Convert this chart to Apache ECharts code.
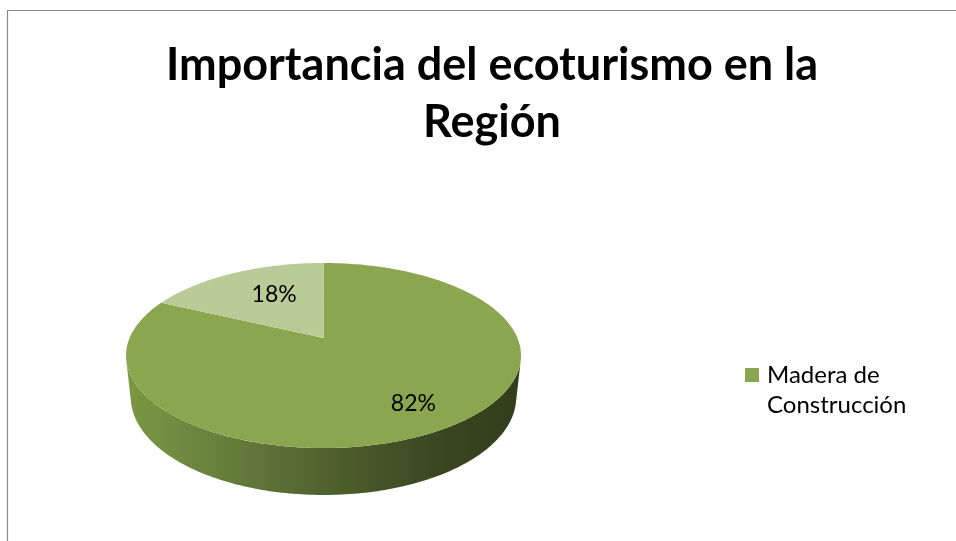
<!DOCTYPE html>
<html><head><meta charset="utf-8">
<script src="https://cdn.jsdelivr.net/npm/echarts@6/dist/echarts.min.js"></script>
<style>html,body{margin:0;padding:0;background:#fff}#c{width:956px;height:541px}</style>
</head><body><div id="c"></div>
<script>
// ---- data ----
const categories = ['Madera de Construcción', 'Otros'];
const values = [82, 18];
const legendItems = ['Madera de Construcción'];
const titleLines = ['Importancia del ecoturismo en la', 'Región'];

// ---- style ----
const topColors = ['#8AA64F', '#B9CC97'];
const FONT = 'Lato, "Noto Sans", sans-serif';
const labelRadius = [0.76, 0.61];
const labelAngleShift = [0, 5];
// 3D projection parameters (tilted disk with perspective)
const GEO = {cx: 323.5, cy: 338, k: 1025, sinA: 0.46, cosA: 0.888, d: 5.286, h: 0.243};
function proj(phiDeg, r, depth) {
  const p = phiDeg * Math.PI / 180;
  const u = r * Math.sin(p), v = r * Math.cos(p);
  const z = GEO.d + v + depth * GEO.sinA / GEO.cosA;
  return [GEO.cx + GEO.k * u / z, GEO.cy - GEO.k * (v * GEO.sinA - depth * GEO.cosA) / z];
}
const total = values.reduce((a, b) => a + b, 0);
const cum = [];
values.reduce((acc, v, i) => { cum[i] = acc; return acc + v; }, 0);
// visible part of the outer wall
const camV = GEO.d * GEO.cosA * GEO.cosA;
const visLo = Math.acos(-1 / camV) * 180 / Math.PI;
const visHi = 360 - visLo;

function arc(a0, a1, depth) {
  const pts = [];
  const n = Math.max(2, Math.ceil(Math.abs(a1 - a0)));
  for (let j = 0; j <= n; j++) pts.push(proj(a0 + (a1 - a0) * j / n, 1, depth));
  return pts;
}

function renderItem(params, api) {
  const i = params.dataIndex;
  const val = api.value(0);
  const a0 = cum[i] / total * 360;
  const a1 = (cum[i] + val) / total * 360;
  const children = [];
  const w0 = Math.max(a0, visLo), w1 = Math.min(a1, visHi);
  if (w1 > w0) {
    const pts = arc(w0, w1, 0).concat(arc(w0, w1, GEO.h).reverse());
    children.push({
      type: 'polygon', z2: 1,
      shape: {points: pts},
      style: {
        fill: {type: 'linear', x: 126, y: 0, x2: 522, y2: 0, global: true,
          colorStops: [
            {offset: 0, color: '#7B9843'},
            {offset: 0.3, color: '#62793A'},
            {offset: 0.55, color: '#4C5D2C'},
            {offset: 0.8, color: '#394620'},
            {offset: 1, color: '#323D1B'}
          ]}
      }
    });
  }
  const topPts = [proj(0, 0, 0)].concat(arc(a0, a1, 0));
  children.push({
    type: 'polygon', z2: 10,
    shape: {points: topPts},
    style: {fill: topColors[i]}
  });
  const mid = (a0 + a1) / 2 + labelAngleShift[i];
  const lp = proj(mid, labelRadius[i], 0);
  children.push({
    type: 'text', z2: 20,
    x: lp[0], y: lp[1],
    style: {
      text: Math.round(val / total * 100) + '%',
      align: 'center', verticalAlign: 'middle',
      fontFamily: FONT, fontSize: 23, fill: '#000'
    }
  });
  return {type: 'group', children: children};
}

const chart = echarts.init(document.getElementById('c'));
chart.setOption({
  backgroundColor: '#fff',
  animation: false,
  graphic: [{
    type: 'rect', z: -1,
    shape: {x: 7.5, y: 10.5, width: 1200, height: 800},
    style: {fill: 'none', stroke: '#8a8a8a', lineWidth: 1.2}
  }],
  title: {
    text: titleLines.join('\n'),
    left: 487, top: 32, textAlign: 'center',
    textStyle: {fontFamily: FONT, fontWeight: 'bold', fontSize: 45, lineHeight: 57, color: '#000'}
  },
  legend: {
    data: legendItems.map((n, i) => ({name: n, itemStyle: {color: topColors[i]}})),
    orient: 'vertical', left: 745, top: 330, padding: 0,
    icon: 'rect', itemWidth: 14, itemHeight: 14,
    formatter: n => '\n' + n.replace(' de ', ' de\n'),
    textStyle: {fontFamily: FONT, fontSize: 24, lineHeight: 30, color: '#000', padding: [0, 0, 0, 3]}
  },
  series: [{
    type: 'custom',
    name: legendItems[0],
    coordinateSystem: 'none',
    renderItem: renderItem,
    data: values.map((v, i) => ({name: categories[i], value: v}))
  }]
});
</script>
</body></html>
